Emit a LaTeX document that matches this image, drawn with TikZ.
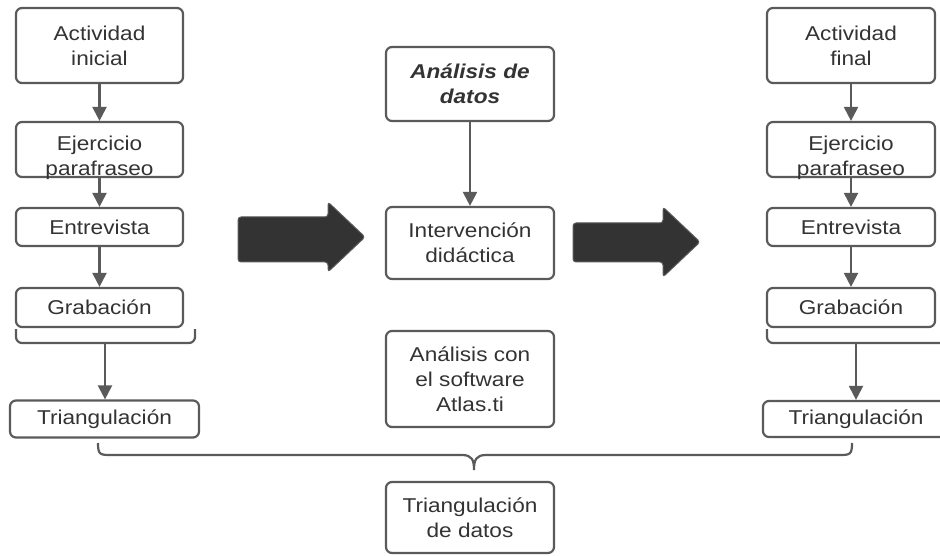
\documentclass[tikz,border=0pt]{standalone}
\usepackage{fontspec}
\setmainfont{Liberation Sans}[FakeStretch=1.13]
\usetikzlibrary{arrows.meta}
\definecolor{linec}{HTML}{5A5A5A}
\definecolor{textc}{HTML}{333333}
\definecolor{bigc}{HTML}{333333}
\begin{document}
\begin{tikzpicture}[x=1pt,y=-1pt,
  box/.style={draw=linec, line width=2.2pt, rounded corners=6pt, minimum width=167pt,
    align=center, text=textc, font=\fontsize{20}{25}\selectfont, inner sep=0pt},
  lbl/.style={align=center, text=textc, font=\fontsize{20}{25}\selectfont, inner sep=0pt},
  conn/.style={draw=linec, line width=2.2pt, -{Triangle[width=14pt,length=14pt]}},
  brk/.style={draw=linec, line width=2.2pt, rounded corners=6pt},
  bigarrow/.style={fill=bigc, draw=linec, line width=1pt, rounded corners=3pt}]
\useasboundingbox (0,0) rectangle (940,556);
\clip (0,0) rectangle (940,556);

% left column
\node[box, minimum height=75pt] (l1) at (99.5,45.5) {Actividad\\inicial};
\node[box, minimum height=55pt] (l2) at (99.5,149.5) {};
\node[lbl] (l2t) at (99.5,157.5) {Ejercicio\\parafraseo};
\node[box, minimum height=38pt] (l3) at (99.5,227) {Entrevista};
\node[box, minimum height=39pt] (l4) at (99.5,307.5) {Grabación};
\node[box, minimum width=189pt, minimum height=37pt] (l5) at (104.5,419) {Triangulación};
\draw[conn] (l1) -- (l2);
\draw[conn] (l2) -- (l3);
\draw[conn] (l3) -- (l4);
\draw[brk] (16,329) -- (16,343) -- (195,343) -- (195,329);
\coordinate (lb) at (105,343);
\draw[conn] (lb) -- (lb |- l5.north);

% center column
\node[box, minimum width=168pt, minimum height=74pt, font=\fontsize{20}{25}\selectfont\bfseries\itshape] (c1) at (470,84) {Análisis de\\datos};
\node[box, minimum width=168pt, minimum height=72pt] (c2) at (470,243) {Intervención\\didáctica};
\node[box, minimum width=168pt, minimum height=96pt] (c3) at (470,379) {Análisis con\\el software\\Atlas.ti};
\node[box, minimum width=168pt, minimum height=71pt] (c4) at (470,517.5) {Triangulación\\de datos};
\draw[conn] (c1) -- (c2);

% right column
\node[box, minimum width=168pt, minimum height=75pt] (r1) at (851,45.5) {Actividad\\final};
\node[box, minimum width=168pt, minimum height=55pt] (r2) at (851,149.5) {};
\node[lbl] (r2t) at (851,157.5) {Ejercicio\\parafraseo};
\node[box, minimum width=168pt, minimum height=38pt] (r3) at (851,227) {Entrevista};
\node[box, minimum width=168pt, minimum height=39pt] (r4) at (851,307.5) {Grabación};
\node[box, minimum width=186pt, minimum height=36pt] (r5) at (856,419) {Triangulación};
\draw[conn] (r1) -- (r2);
\draw[conn] (r2) -- (r3);
\draw[conn] (r3) -- (r4);
\draw[brk] (767,329) -- (767,343) -- (950,343);
\coordinate (rb) at (856,343);
\draw[conn] (rb) -- (rb |- r5.north);

% big arrows
\draw[bigarrow] (238,217) -- (328,217) -- (328,202) -- (365,237) -- (328,272) -- (328,262) -- (238,262) -- cycle;
\draw[bigarrow] (573,223) -- (663,223) -- (663,207) -- (700,242) -- (663,277) -- (663,262) -- (573,262) -- cycle;

% bottom brace
\draw[draw=linec, line width=2.2pt] (98,443) .. controls (98,455) and (100,455) .. (112,455)
  -- (462,455) .. controls (472,455) and (474,460) .. (474,470)
  .. controls (474,460) and (476,455) .. (486,455)
  -- (838,455) .. controls (850,455) and (852,455) .. (852,443);
\end{tikzpicture}
\end{document}
